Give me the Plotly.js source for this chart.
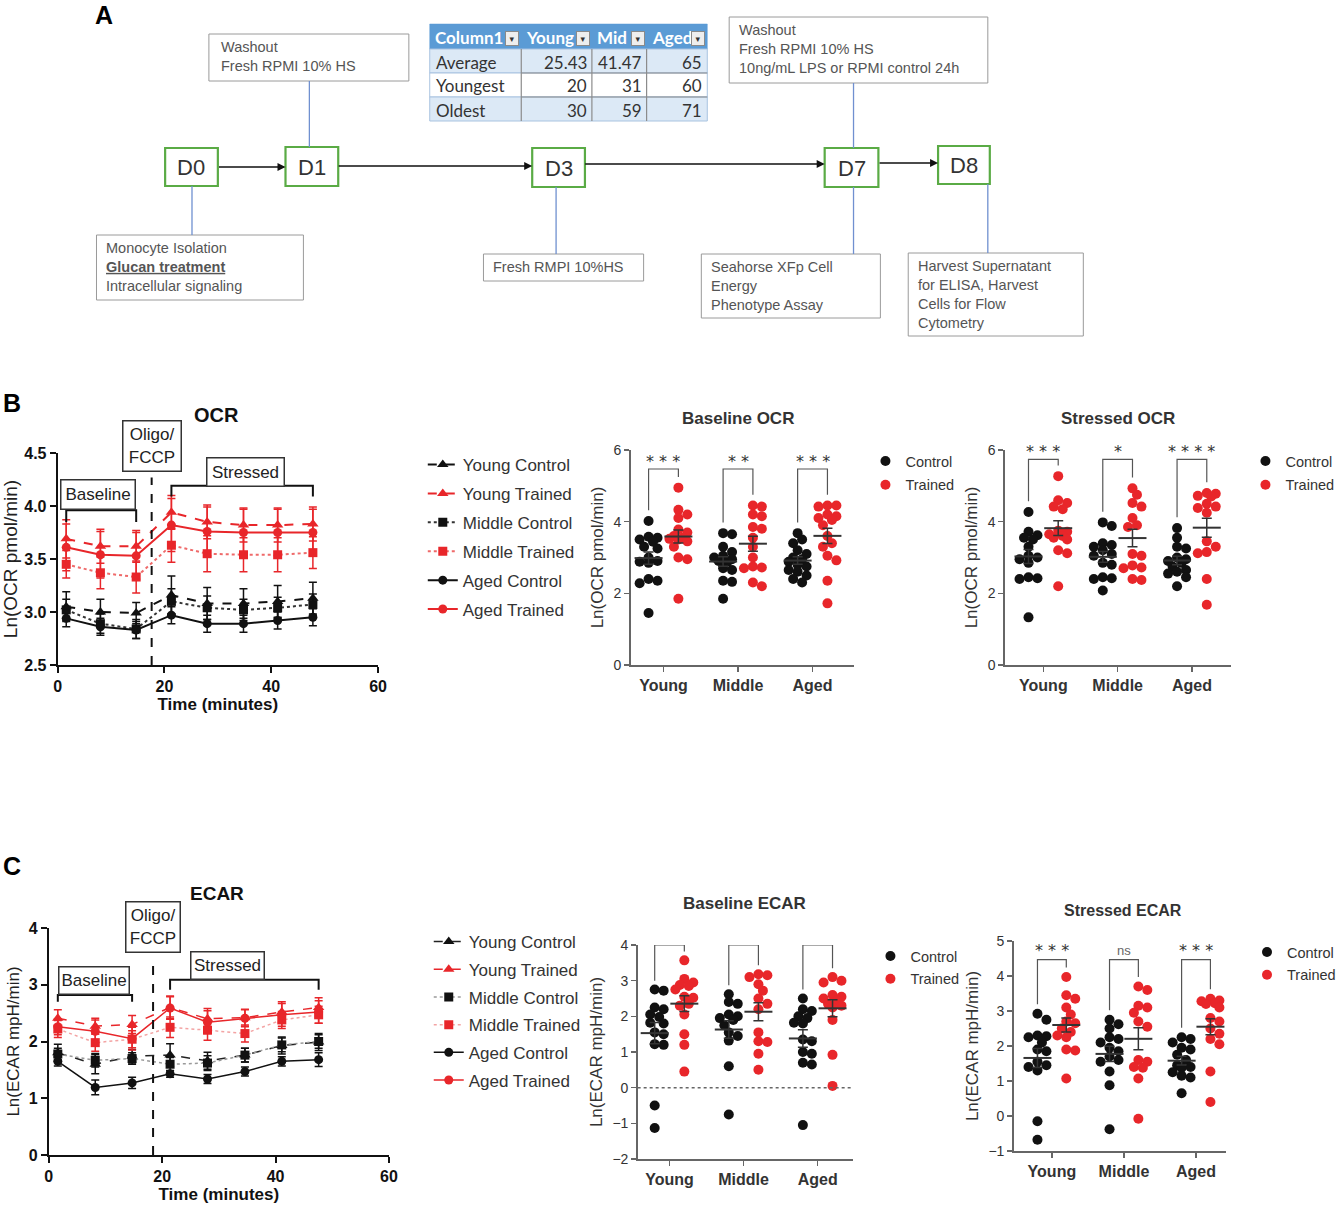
<!DOCTYPE html>
<html><head><meta charset="utf-8">
<script src="https://cdn.plot.ly/plotly-3.0.1.min.js"></script>
<style>html,body{margin:0;padding:0;background:#fff;overflow:hidden}#chart{width:1341px;height:1210px}</style>
</head><body><div id="chart"></div>
<script>
// ---------------- DATA ----------------
// Panel A table
const tableHeader = ['Column1', 'Young', 'Mid', 'Aged'];
const tableRows = ['Average', 'Youngest', 'Oldest'];
const tableYoung = [25.43, 20, 30];
const tableMid = [41.47, 31, 59];
const tableAged = [65, 60, 71];

// Panel B: OCR time course (mean, SEM)
const timeOCR = [1.6, 8.0, 14.7, 21.3, 28.0, 34.8, 41.2, 47.8];
const ocrYoungControl = [3.05, 3.00, 2.99, 3.16, 3.08, 3.08, 3.10, 3.13];
const ocrYoungControlErr = [0.14, 0.12, 0.10, 0.18, 0.15, 0.14, 0.15, 0.15];
const ocrYoungTrained = [3.69, 3.62, 3.62, 3.94, 3.85, 3.82, 3.82, 3.83];
const ocrYoungTrainedErr = [0.18, 0.16, 0.15, 0.16, 0.16, 0.16, 0.16, 0.16];
const ocrMiddleControl = [3.02, 2.89, 2.84, 3.10, 3.04, 3.02, 3.04, 3.07];
const ocrMiddleControlErr = [0.10, 0.09, 0.09, 0.12, 0.11, 0.10, 0.10, 0.10];
const ocrMiddleTrained = [3.45, 3.37, 3.33, 3.63, 3.55, 3.54, 3.54, 3.56];
const ocrMiddleTrainedErr = [0.13, 0.15, 0.15, 0.16, 0.17, 0.16, 0.16, 0.15];
const ocrAgedControl = [2.94, 2.86, 2.83, 2.97, 2.89, 2.89, 2.92, 2.95];
const ocrAgedControlErr = [0.08, 0.08, 0.08, 0.08, 0.08, 0.08, 0.08, 0.08];
const ocrAgedTrained = [3.61, 3.54, 3.53, 3.82, 3.76, 3.75, 3.75, 3.75];
const ocrAgedTrainedErr = [0.22, 0.22, 0.22, 0.25, 0.23, 0.22, 0.22, 0.22];

// Panel C: ECAR time course (mean, SEM)
const timeECAR = [1.6, 8.2, 14.7, 21.4, 28.0, 34.6, 41.1, 47.6];
const ecarYoungControl = [1.80, 1.60, 1.74, 1.76, 1.66, 1.76, 1.93, 1.99];
const ecarYoungControlErr = [0.15, 0.17, 0.12, 0.20, 0.15, 0.12, 0.15, 0.15];
const ecarYoungTrained = [2.41, 2.27, 2.30, 2.60, 2.40, 2.42, 2.52, 2.60];
const ecarYoungTrainedErr = [0.15, 0.14, 0.16, 0.20, 0.18, 0.15, 0.18, 0.17];
const ecarMiddleControl = [1.78, 1.67, 1.70, 1.60, 1.62, 1.76, 1.94, 2.00];
const ecarMiddleControlErr = [0.10, 0.12, 0.10, 0.12, 0.13, 0.12, 0.12, 0.12];
const ecarMiddleTrained = [2.22, 1.98, 2.04, 2.25, 2.20, 2.14, 2.38, 2.47];
const ecarMiddleTrainedErr = [0.15, 0.15, 0.15, 0.18, 0.18, 0.15, 0.15, 0.15];
const ecarAgedControl = [1.65, 1.19, 1.27, 1.43, 1.34, 1.47, 1.65, 1.68];
const ecarAgedControlErr = [0.08, 0.13, 0.10, 0.06, 0.08, 0.08, 0.08, 0.12];
const ecarAgedTrained = [2.26, 2.18, 2.05, 2.59, 2.34, 2.41, 2.47, 2.52];
const ecarAgedTrainedErr = [0.14, 0.20, 0.20, 0.20, 0.20, 0.15, 0.20, 0.20];

// Dot plots: per age group [Young, Middle, Aged]
const ageGroups = ['Young', 'Middle', 'Aged'];
const baselineOCRControl = [
  [4.02, 3.58, 3.55, 3.50, 3.44, 3.30, 3.25, 3.00, 2.90, 2.88, 2.85, 2.40, 2.35, 2.28, 1.45],
  [3.68, 3.65, 3.30, 3.15, 3.05, 3.00, 2.95, 2.90, 2.88, 2.70, 2.65, 2.35, 2.32, 1.85],
  [3.68, 3.50, 3.40, 3.20, 3.10, 3.00, 2.95, 2.88, 2.80, 2.75, 2.65, 2.60, 2.50, 2.40, 2.30]];
const baselineOCRTrained = [
  [4.95, 4.33, 4.20, 4.10, 3.78, 3.70, 3.60, 3.55, 3.52, 3.50, 3.45, 3.30, 3.00, 2.95, 1.85],
  [4.45, 4.42, 4.20, 4.15, 3.85, 3.80, 3.55, 3.30, 3.00, 2.75, 2.72, 2.70, 2.30, 2.20],
  [4.45, 4.45, 4.42, 4.20, 4.15, 4.10, 4.05, 3.90, 3.60, 3.40, 3.30, 3.05, 2.92, 2.35, 1.72]];
const stressedOCRControl = [
  [4.27, 3.72, 3.62, 3.55, 3.50, 3.30, 3.05, 3.00, 2.95, 2.85, 2.45, 2.42, 2.40, 1.33],
  [3.98, 3.88, 3.40, 3.35, 3.30, 3.20, 3.10, 3.05, 2.85, 2.80, 2.45, 2.42, 2.40, 2.08],
  [3.82, 3.55, 3.30, 3.25, 3.00, 2.95, 2.90, 2.85, 2.75, 2.65, 2.60, 2.55, 2.45, 2.20]];
const stressedOCRTrained = [
  [5.27, 4.60, 4.52, 4.42, 4.35, 3.75, 3.72, 3.65, 3.60, 3.55, 3.50, 3.20, 3.12, 2.20],
  [4.93, 4.75, 4.52, 4.42, 4.10, 3.90, 3.85, 3.10, 3.05, 2.78, 2.72, 2.70, 2.40, 2.37],
  [4.80, 4.78, 4.72, 4.70, 4.50, 4.42, 4.38, 4.25, 3.45, 3.30, 3.15, 3.12, 2.40, 1.68]];
const baselineECARControl = [
  [2.75, 2.72, 2.25, 2.20, 2.05, 1.98, 1.82, 1.80, 1.55, 1.50, 1.22, 1.20, -0.50, -1.13],
  [2.62, 2.40, 2.35, 2.05, 2.00, 1.95, 1.90, 1.75, 1.55, 1.45, 1.32, 0.60, -0.75],
  [2.50, 2.20, 2.15, 2.00, 1.95, 1.82, 1.80, 1.35, 1.30, 1.00, 0.95, 0.70, 0.65, -1.05]];
const baselineECARTrained = [
  [3.57, 3.05, 2.95, 2.88, 2.85, 2.75, 2.55, 2.52, 2.35, 2.30, 2.05, 1.50, 1.20, 0.45],
  [3.18, 3.15, 3.10, 2.90, 2.72, 2.50, 2.35, 2.20, 1.55, 1.30, 1.28, 0.95, 0.50],
  [3.10, 3.00, 2.95, 2.60, 2.55, 2.50, 2.45, 2.35, 2.30, 2.25, 1.90, 0.92, 0.05]];
const stressedECARControl = [
  [2.92, 2.75, 2.30, 2.28, 2.25, 2.10, 1.90, 1.85, 1.55, 1.45, 1.40, 1.30, -0.15, -0.68],
  [2.75, 2.62, 2.50, 2.25, 2.20, 2.10, 1.95, 1.85, 1.70, 1.60, 1.55, 1.27, 0.88, -0.38],
  [2.25, 2.20, 2.10, 1.95, 1.90, 1.75, 1.60, 1.45, 1.40, 1.38, 1.25, 1.15, 1.10, 0.65]];
const stressedECARTrained = [
  [3.97, 3.45, 3.35, 3.10, 2.90, 2.70, 2.65, 2.50, 2.40, 2.30, 2.25, 1.90, 1.87, 1.07],
  [3.70, 3.60, 3.15, 3.10, 2.95, 2.70, 2.55, 1.60, 1.55, 1.40, 1.38, 1.07, -0.08],
  [3.35, 3.30, 3.28, 3.22, 3.20, 3.10, 2.80, 2.70, 2.50, 2.35, 2.20, 2.05, 1.27, 0.40]];

const sigBaselineOCR = ['* * *', '* *', '* * *'];
const sigStressedOCR = ['* * *', '*', '* * * *'];
const sigBaselineECAR = ['* *', 'ns', '* *'];
const sigStressedECAR = ['* * *', 'ns', '* * *'];

// ---------------- HELPERS ----------------
const W = 1341, H = 1210;
const X = p => p / W, Y = p => 1 - p / H;
const FONT = 'Liberation Sans, Arial, sans-serif';
const TFONT = 'Lato, Liberation Sans, sans-serif';
const RED = '#e8262a', BLK = '#111111';

const mean = a => a.reduce((s, v) => s + v, 0) / a.length;
const sem = a => { const m = mean(a); return Math.sqrt(a.reduce((s, v) => s + (v - m) * (v - m), 0) / (a.length - 1)) / Math.sqrt(a.length); };

function swarm(vals, pxPerX, pxPerY) {
  const d = 10;
  const idx = vals.map((v, i) => i).sort((a, b) => vals[b] - vals[a]);
  const placed = []; const out = new Array(vals.length).fill(0);
  const steps = [0, 0.45, -0.45, 0.9, -0.9];
  for (const i of idx) {
    const py = vals[i] * pxPerY;
    let best = 0, bestScore = -1;
    for (const s of steps) {
      const px = s * d;
      let minD = Infinity;
      for (const p of placed) minD = Math.min(minD, Math.hypot(p.x - px, p.y - py));
      if (minD >= 0.75 * d) { best = px; break; }
      if (minD > bestScore) { bestScore = minD; best = px; }
    }
    placed.push({ x: best, y: py }); out[i] = best / pxPerX;
  }
  return out;
}

const traces = [];
const shapes = [];
const annotations = [];

function lineTrace(name, t, y, e, color, lineColor, dash, width, symbol, xa, ya, legend) {
  return {
    type: 'scatter', mode: 'lines+markers', name, x: t, y, xaxis: xa, yaxis: ya,
    legend, legendgroup: legend + name,
    line: { color: lineColor, dash, width },
    marker: { color, symbol, size: symbol === 'triangle-up' ? 10 : 9 },
    error_y: { type: 'data', array: e, visible: true, color, thickness: 1.5, width: 4 },
    cliponaxis: false
  };
}

// OCR time course
[
  ['Young Control', ocrYoungControl, ocrYoungControlErr, BLK, BLK, 'dash', 2, 'triangle-up'],
  ['Young Trained', ocrYoungTrained, ocrYoungTrainedErr, RED, RED, 'dash', 2, 'triangle-up'],
  ['Middle Control', ocrMiddleControl, ocrMiddleControlErr, BLK, '#333', 'dot', 2, 'square'],
  ['Middle Trained', ocrMiddleTrained, ocrMiddleTrainedErr, RED, '#ef6a6a', 'dot', 2, 'square'],
  ['Aged Control', ocrAgedControl, ocrAgedControlErr, BLK, BLK, 'solid', 2, 'circle'],
  ['Aged Trained', ocrAgedTrained, ocrAgedTrainedErr, RED, RED, 'solid', 2, 'circle']
].forEach(s => traces.push(lineTrace(s[0], timeOCR, s[1], s[2], s[3], s[4], s[5], s[6], s[7], 'x', 'y', 'legend')));

// ECAR time course
[
  ['Young Control', ecarYoungControl, ecarYoungControlErr, BLK, '#222', 'dash', 1.5, 'triangle-up'],
  ['Young Trained', ecarYoungTrained, ecarYoungTrainedErr, RED, RED, 'dash', 1.5, 'triangle-up'],
  ['Middle Control', ecarMiddleControl, ecarMiddleControlErr, BLK, '#9a9a9a', 'dot', 1.5, 'square'],
  ['Middle Trained', ecarMiddleTrained, ecarMiddleTrainedErr, RED, '#f3a3a3', 'dot', 1.5, 'square'],
  ['Aged Control', ecarAgedControl, ecarAgedControlErr, BLK, BLK, 'solid', 1.5, 'circle'],
  ['Aged Trained', ecarAgedTrained, ecarAgedTrainedErr, RED, RED, 'solid', 1.5, 'circle']
].forEach(s => traces.push(lineTrace(s[0], timeECAR, s[1], s[2], s[3], s[4], s[5], s[6], s[7], 'x4', 'y4', 'legend4')));

// Dot plots
function dotPanel(ctrl, trn, ax, legend, pxX, pxY, sig, sigTop, sigText, pad) {
  const xa = 'x' + ax, ya = 'y' + ax;
  const groups = [[ctrl, 'Control', BLK, -0.2], [trn, 'Trained', RED, 0.2]];
  const meanTraces = [];
  groups.forEach(([g, name, color, off]) => {
    const xs = [], ys = [];
    g.forEach((vals, gi) => {
      const o = swarm(vals, pxX, pxY);
      vals.forEach((v, i) => { xs.push(gi + off + o[i]); ys.push(v); });
    });
    traces.push({ type: 'scatter', mode: 'markers', name, x: xs, y: ys, xaxis: xa, yaxis: ya, legend,
      legendgroup: legend + name, marker: { color, size: 10 }, cliponaxis: false });
    meanTraces.push({ type: 'scatter', mode: 'markers', x: g.map((v, gi) => gi + off), y: g.map(mean),
      xaxis: xa, yaxis: ya, showlegend: false,
      marker: { symbol: 'line-ew', size: 20, color: '#333', line: { width: 2, color: '#333' } },
      error_y: { type: 'data', array: g.map(sem), visible: true, color: '#333', thickness: 1.5, width: 5 },
      cliponaxis: false });
  });
  meanTraces.forEach(t => traces.push(t));
  ctrl.forEach((c, gi) => {
    const lb = Math.min(Math.max(...c) + pad, sig - 0.15);
    const rb = Math.min(Math.max(...trn[gi]) + pad, sig - 0.15);
    const xl = gi - 0.2, xr2 = gi + 0.2;
    shapes.push({ type: 'path', xref: xa, yref: ya,
      path: `M ${xl} ${lb} L ${xl} ${sig} L ${xr2} ${sig} L ${xr2} ${rb}`,
      line: { color: '#555', width: 1.2 } });
    const isNs = sigText[gi] === 'ns';
    annotations.push({ xref: xa, yref: ya, x: gi, y: sigTop, text: sigText[gi], showarrow: false,
      xanchor: 'center', yanchor: 'middle',
      font: isNs ? { family: FONT, size: 13, color: '#666' } : { family: 'DejaVu Sans', size: 16, color: '#333' } });
  });
}
dotPanel(baselineOCRControl, baselineOCRTrained, 2, 'legend2', 75, 215 / 6, 5.47, 5.68, sigBaselineOCR, 0.3);
dotPanel(stressedOCRControl, stressedOCRTrained, 3, 'legend3', 74.5, 215 / 6, 5.74, 5.95, sigStressedOCR, 0.3);
dotPanel(baselineECARControl, baselineECARTrained, 5, 'legend5', 74.5, 214 / 6, 4.0, 4.3, sigBaselineECAR, 0.25);
dotPanel(stressedECARControl, stressedECARTrained, 6, 'legend6', 72.5, 210 / 6, 4.47, 4.72, sigStressedECAR, 0.27);

// Zero line for Baseline ECAR
shapes.push({ type: 'line', xref: 'x5', yref: 'y5', x0: -0.43, x1: 2.47, y0: 0, y1: 0, line: { color: '#666', width: 1.5, dash: 'dot' } });

// ---------------- Panel A helpers ----------------
function rectPx(x0, y0, x1, y1, color, width, fill) {
  shapes.push({ type: 'rect', xref: 'paper', yref: 'paper', x0: X(x0), x1: X(x1), y0: Y(y1), y1: Y(y0),
    line: { color, width }, fillcolor: fill || 'rgba(0,0,0,0)', layer: 'below' });
}
function linePx(x0, y0, x1, y1, color, width) {
  shapes.push({ type: 'line', xref: 'paper', yref: 'paper', x0: X(x0), x1: X(x1), y0: Y(y0), y1: Y(y1), line: { color, width } });
}
function textPx(x, y, text, size, color, opts, family) {
  annotations.push(Object.assign({ xref: 'paper', yref: 'paper', x: X(x), y: Y(y), text, showarrow: false,
    font: { family: family || FONT, size, color }, xanchor: 'center', yanchor: 'middle' }, opts || {}));
}

// Panel A table (drawn cell by cell from the table arrays)
const colEdges = [432, 524, 595, 650, 711];
const rowEdges = [24, 49, 73, 97, 121];
const tableCols = [tableRows, tableYoung, tableMid, tableAged];
rectPx(colEdges[0], rowEdges[0], colEdges[4], rowEdges[1], '#5b9bd5', 0.5, '#5b9bd5');
tableRows.forEach((r, ri) => {
  const fill = ri % 2 === 0 ? '#dce9f6' : '#ffffff';
  rectPx(colEdges[0], rowEdges[ri + 1], colEdges[4], rowEdges[ri + 2], '#a9c3e0', 1, fill);
});
[1, 2, 3].forEach(ci => linePx(colEdges[ci], rowEdges[1], colEdges[ci], rowEdges[4], '#8c8c8c', 1.2));
[2, 3].forEach(ri => linePx(colEdges[1], rowEdges[ri], colEdges[4], rowEdges[ri], '#8c8c8c', 1));
tableHeader.forEach((h, ci) => {
  textPx(colEdges[ci] + 3, (rowEdges[0] + rowEdges[1]) / 2 + 1, '<b>' + h + '</b>', 17, '#ffffff', { xanchor: 'left' }, TFONT);
  annotations.push({ xref: 'paper', yref: 'paper', x: X(colEdges[ci + 1] - 9), y: Y(38), text: '▾', showarrow: false,
    xanchor: 'center', yanchor: 'middle', width: 12, height: 13, borderpad: 0, bgcolor: '#eeeeee',
    bordercolor: '#8a8a8a', borderwidth: 1, font: { family: 'DejaVu Sans', size: 9, color: '#333' } });
});
tableCols.forEach((col, ci) => col.forEach((v, ri) => {
  const yc = (rowEdges[ri + 1] + rowEdges[ri + 2]) / 2 + 1;
  if (ci === 0) textPx(colEdges[0] + 4, yc, String(v), 17, '#333', { xanchor: 'left' }, TFONT);
  else textPx(colEdges[ci + 1] - 3, yc, String(v), 17, '#333', { xanchor: 'right' }, TFONT);
}));

// ---------------- Panel A diagram ----------------
const dayBoxes = [['D0', 166, 148, 219, 186], ['D1', 287, 147, 340, 186], ['D3', 535, 148, 588, 187],
  ['D7', 829, 148, 883, 187], ['D8', 943, 146, 995, 184]];
dayBoxes.forEach(b => { rectPx(b[1], b[2], b[3], b[4], '#5aab45', 2.2); textPx((b[1] + b[3]) / 2, (b[2] + b[4]) / 2 + 0.5, b[0], 22, '#333'); });
[[219, 287, 167], [340, 535, 166], [588, 829, 164], [883, 943, 163]].forEach(a => {
  annotations.push({ xref: 'paper', yref: 'paper', x: X(a[1]), y: Y(a[2]), ax: -(a[1] - a[0]), ay: 0,
    text: '', showarrow: true, arrowhead: 2, arrowsize: 1, arrowwidth: 1.6, arrowcolor: '#111', standoff: 0 });
});
const BLUE = '#7090d0';
[[311, 81, 311, 147], [193, 186, 193, 235], [559, 187, 559, 254], [858, 83, 858, 148], [858, 187, 858, 254], [993, 184, 993, 253]]
  .forEach(l => linePx(l[0], l[1], l[2], l[3], BLUE, 1.3));
const noteBoxes = [
  [210, 34, 411, 81, 221, 'Washout<br>Fresh RPMI 10% HS'],
  [97, 235, 305, 300, 106, 'Monocyte Isolation<br><b><u>Glucan treatment</u></b><br>Intracellular signaling'],
  [486, 254, 647, 281, 495, 'Fresh RMPI 10%HS'],
  [733, 17, 993, 83, 742, 'Washout<br>Fresh RPMI 10% HS<br>10ng/mL LPS or RPMI control 24h'],
  [705, 254, 885, 318, 714, 'Seahorse XFp Cell<br>Energy<br>Phenotype Assay'],
  [913, 253, 1089, 336, 922, 'Harvest Supernatant<br>for ELISA, Harvest<br>Cells for Flow<br>Cytometry']
];
noteBoxes.forEach(b => {
  rectPx(b[0], b[1], b[2], b[3], '#9a9a9a', 1);
  textPx(b[4], b[1] + 4, b[5], 14.5, '#555', { xanchor: 'left', yanchor: 'top', align: 'left', borderpad: 0 });
});

// Panel labels & titles
textPx(105, 15, '<b>A</b>', 25, '#000');
textPx(12, 403, '<b>B</b>', 25, '#000');
textPx(12, 866, '<b>C</b>', 25, '#000');
textPx(218, 415, '<b>OCR</b>', 20, '#111');
textPx(218, 893, '<b>ECAR</b>', 19, '#111');
textPx(742, 418, '<b>Baseline OCR</b>', 17, '#333');
textPx(1124, 418, '<b>Stressed OCR</b>', 17, '#333');
textPx(748, 903, '<b>Baseline ECAR</b>', 17, '#333');
textPx(1129, 910, '<b>Stressed ECAR</b>', 16, '#333');

// Time-course annotations: brackets, boxes, dashed line
function phaseMarks(t, xa, ya, dashX, dashTop, yMin, bl, st, boxes, oligo) {
  shapes.push({ type: 'line', xref: xa, yref: ya, x0: dashX, x1: dashX, y0: yMin, y1: dashTop, line: { color: '#111', width: 2, dash: 'dash' } });
  shapes.push({ type: 'path', xref: xa, yref: ya, path: `M ${t[0]} ${bl[1]} L ${t[0]} ${bl[0]} L ${t[2]} ${bl[0]} L ${t[2]} ${bl[1]}`, line: { color: '#111', width: 2 } });
  shapes.push({ type: 'path', xref: xa, yref: ya, path: `M ${t[3]} ${st[1]} L ${t[3]} ${st[0]} L ${t[7]} ${st[0]} L ${t[7]} ${st[1]}`, line: { color: '#111', width: 2 } });
  boxes.forEach(b => annotations.push({ xref: xa, yref: ya, x: b[1], y: b[2], text: b[0], showarrow: false,
    xanchor: 'center', yanchor: 'middle',
    width: b[3], height: b[4], borderpad: 0, bordercolor: '#333', borderwidth: 1.5, bgcolor: '#fff',
    font: { family: FONT, size: 17, color: '#222' } }));
  annotations.push({ xref: xa, yref: 'paper', x: oligo[0], y: Y(oligo[1]), text: 'Oligo/<br>FCCP', showarrow: false,
    xanchor: 'center', yanchor: 'middle',
    width: oligo[2], height: 49, borderpad: 0, bordercolor: '#333', borderwidth: 1.5, bgcolor: '#fff',
    font: { family: FONT, size: 17, color: '#222' } });
}
phaseMarks(timeOCR, 'x', 'y', 17.6, 4.27, 2.5, [3.96, 3.85], [4.19, 4.09],
  [['Baseline', 7.6, 4.11, 73, 28], ['Stressed', 35.2, 4.325, 76, 27]], [17.75, 446, 57]);
phaseMarks(timeECAR, 'x4', 'y4', 18.4, 3.49, 0, [2.82, 2.70], [3.09, 2.91],
  [['Baseline', 8.05, 3.08, 69, 26], ['Stressed', 31.6, 3.345, 72, 26]], [18.45, 927.5, 53]);

// ---------------- AXES ----------------
const tickBold = (size) => ({ family: FONT, size, color: '#111', weight: 'bold' });
function timeX(dom, anchor) {
  return { domain: dom, anchor, range: [0, 60], tickvals: [0, 20, 40, 60], ticks: 'outside', ticklen: 6, tickwidth: 2,
    tickcolor: '#111', showline: true, linewidth: 2, linecolor: '#111', showgrid: false, zeroline: false,
    tickfont: tickBold(16), title: { text: 'Time (minutes)', font: { family: FONT, size: 17, color: '#111', weight: 'bold' }, standoff: 3 } };
}
function lineY(dom, anchor, range, tickvals, fmt, title, tsize) {
  return { domain: dom, anchor, range, tickvals, tickformat: fmt, ticks: 'outside', ticklen: 6, tickwidth: 2, tickcolor: '#111',
    showline: true, linewidth: 2, linecolor: '#111', showgrid: false, zeroline: false, tickfont: tickBold(16),
    title: { text: title, font: { family: FONT, size: tsize, color: '#222' }, standoff: 5 } };
}
function catX(dom, anchor, range) {
  return { domain: dom, anchor, range, tickvals: [0, 1, 2], ticktext: ageGroups, ticks: 'outside', ticklen: 5, tickwidth: 1.5,
    tickcolor: '#666', showline: true, linewidth: 1.5, linecolor: '#666', showgrid: false, zeroline: false,
    tickfont: { family: FONT, size: 16, color: '#333', weight: 'bold' } };
}
function dotY(dom, anchor, range, tickvals, title) {
  return { domain: dom, anchor, range, tickvals, ticks: 'outside', ticklen: 5, tickwidth: 1.5, tickcolor: '#666',
    showline: true, linewidth: 1.5, linecolor: '#666', showgrid: false, zeroline: false,
    tickfont: { family: FONT, size: 14, color: '#333' },
    title: { text: title, font: { family: FONT, size: 17, color: '#333' }, standoff: 5 } };
}
function legendAt(xpx, ypx, size, gap) {
  return { x: X(xpx), y: Y(ypx), xanchor: 'left', yanchor: 'top', bgcolor: 'rgba(0,0,0,0)', borderwidth: 0,
    font: { family: FONT, size, color: '#333' }, traceorder: 'grouped', tracegroupgap: gap, itemclick: false };
}

const layout = {
  width: W, height: H, margin: { l: 0, r: 0, t: 0, b: 0 }, paper_bgcolor: '#fff', plot_bgcolor: 'rgba(0,0,0,0)',
  showlegend: true, hovermode: false,
  xaxis: timeX([X(58), X(380)], 'y'),
  yaxis: lineY([Y(665), Y(453)], 'x', [2.5, 4.5], [2.5, 3.0, 3.5, 4.0, 4.5], '.1f', 'Ln(OCR pmol/min)', 19),
  xaxis2: catX([X(634), X(858)], 'y2', [-0.44, 2.55]),
  yaxis2: dotY([Y(665), Y(450)], 'x2', [0, 6], [0, 2, 4, 6], 'Ln(OCR pmol/min)'),
  xaxis3: catX([X(1010), X(1237)], 'y3', [-0.52, 2.52]),
  yaxis3: dotY([Y(665), Y(450)], 'x3', [0, 6], [0, 2, 4, 6], 'Ln(OCR pmol/min)'),
  xaxis4: timeX([X(49), X(391)], 'y4'),
  yaxis4: lineY([Y(1155), Y(928)], 'x4', [0, 4], [0, 1, 2, 3, 4], '', 'Ln(ECAR mpH/min)', 17),
  xaxis5: catX([X(641), X(857)], 'y5', [-0.43, 2.47]),
  yaxis5: dotY([Y(1159), Y(945)], 'x5', [-2, 4], [-2, -1, 0, 1, 2, 3, 4], 'Ln(ECAR mpH/min)'),
  xaxis6: catX([X(1019), X(1232)], 'y6', [-0.53, 2.41]),
  yaxis6: dotY([Y(1151), Y(941)], 'x6', [-1, 5], [-1, 0, 1, 2, 3, 4, 5], 'Ln(ECAR mpH/min)'),
  legend: legendAt(425, 447, 17, 3.8),
  legend4: legendAt(431, 924, 17, 2.6),
  legend2: legendAt(870, 445, 14.5, 2),
  legend3: legendAt(1252, 445, 14.5, 2),
  legend5: legendAt(875, 940, 14.5, 1),
  legend6: legendAt(1254, 936, 14.5, 1),
  shapes, annotations
};

Plotly.newPlot('chart', traces, layout, { staticPlot: true, displayModeBar: false });
</script></body></html>
